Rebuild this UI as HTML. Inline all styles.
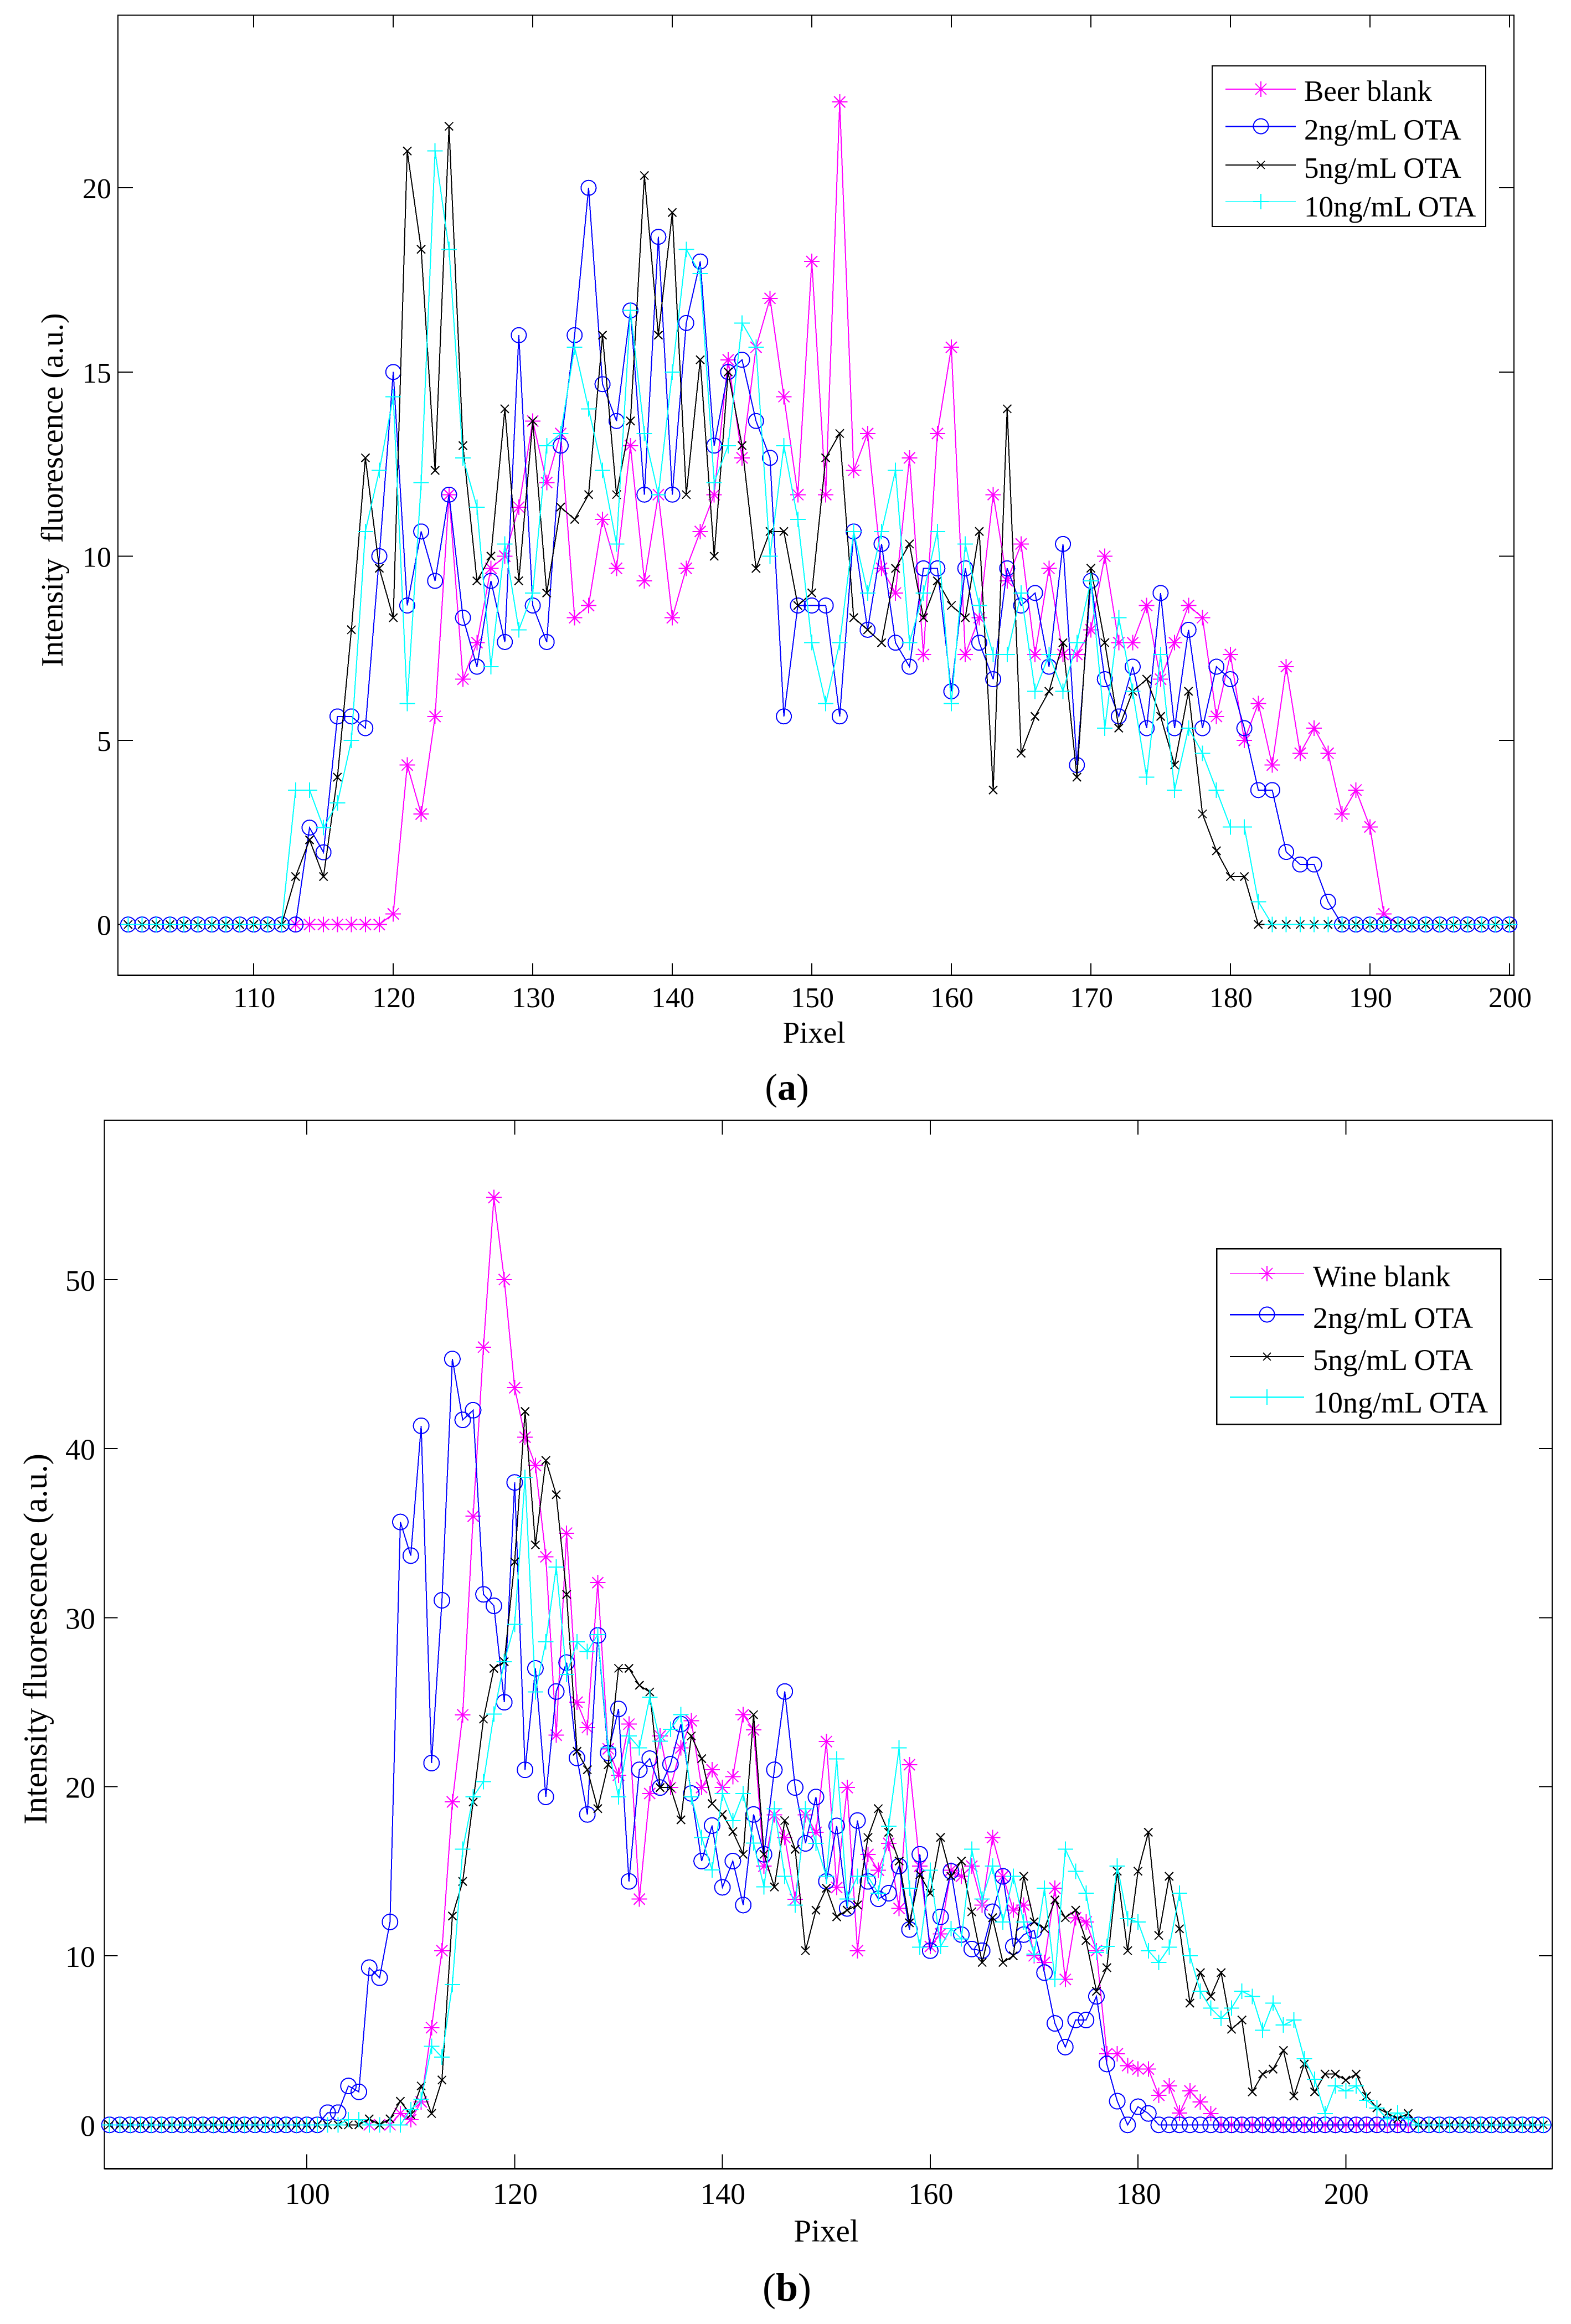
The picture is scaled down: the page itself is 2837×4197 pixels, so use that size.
<!DOCTYPE html>
<html lang="en">
<head>
<meta charset="utf-8">
<title>Intensity fluorescence charts</title>
<style>
html,body{margin:0;padding:0;background:#fff;}
svg{display:block;}
text{font-family:"Liberation Serif","Times New Roman",serif;fill:#000;}
</style>
</head>
<body>
<svg id="figure" xmlns="http://www.w3.org/2000/svg" width="2837" height="4197" viewBox="0 0 2837 4197">
<rect x="0" y="0" width="2837" height="4197" fill="#fff"/>
<g id="panel-a"></g>
<g id="panel-b"></g>

<text font-size="56" text-anchor="middle" xml:space="preserve" transform="translate(113,885) rotate(-90)">Intensity  fluorescence (a.u.)</text>
<text font-size="55" text-anchor="middle" x="1470" y="1883">Pixel</text>
<text font-size="68" text-anchor="middle" x="1421" y="1986">(<tspan font-weight="bold">a</tspan>)</text>

<text font-size="60" text-anchor="middle" transform="translate(84,2960) rotate(-90)">Intensity fluorescence (a.u.)</text>
<text font-size="57" text-anchor="middle" x="1492" y="4048">Pixel</text>
<text font-size="72" text-anchor="middle" x="1421" y="4155">(<tspan font-weight="bold">b</tspan>)</text>

<g id="legend-a" shape-rendering="crispEdges">
  <rect x="2189" y="119" width="494" height="290" fill="#fff" stroke="#000" stroke-width="2"/>
  <g>
    <line x1="2213" x2="2340" y1="161" y2="161" stroke="#f0f" stroke-width="2"/>
    <path d="M2263 161H2291M2277 147V175M2267 151L2287 171M2267 171L2287 151" stroke="#f0f" stroke-width="2" fill="none"/>
    <text font-size="53" x="2355" y="182">Beer blank</text>
  </g>
  <g>
    <line x1="2213" x2="2340" y1="228" y2="228" stroke="#00f" stroke-width="2.5"/>
    <circle cx="2277" cy="228" r="13.5" stroke="#00f" stroke-width="2" fill="none"/>
    <text font-size="53" x="2355" y="252">2ng/mL OTA</text>
  </g>
  <g>
    <line x1="2213" x2="2340" y1="298" y2="298" stroke="#000" stroke-width="2"/>
    <path d="M2270 291L2284 305M2270 305L2284 291" stroke="#000" stroke-width="2" fill="none"/>
    <text font-size="53" x="2355" y="321">5ng/mL OTA</text>
  </g>
  <g>
    <line x1="2213" x2="2340" y1="364" y2="364" stroke="#0ff" stroke-width="1.5"/>
    <path d="M2263 364H2291M2277 350V378" stroke="#0ff" stroke-width="2" fill="none"/>
    <text font-size="53" x="2355" y="391">10ng/mL OTA</text>
  </g>
</g>

<g id="legend-b" shape-rendering="crispEdges">
  <rect x="2197" y="2255" width="513" height="317" fill="#fff" stroke="#000" stroke-width="2.5"/>
  <g>
    <line x1="2221" x2="2355" y1="2300" y2="2300" stroke="#f0f" stroke-width="1.5"/>
    <path d="M2274 2300H2302M2288 2286V2314M2278 2290L2298 2310M2278 2310L2298 2290" stroke="#f0f" stroke-width="2" fill="none"/>
    <text font-size="54" x="2371" y="2323">Wine blank</text>
  </g>
  <g>
    <line x1="2221" x2="2355" y1="2374" y2="2374" stroke="#00f" stroke-width="2.5"/>
    <circle cx="2288" cy="2374" r="13.5" stroke="#00f" stroke-width="2" fill="none"/>
    <text font-size="54" x="2371" y="2398">2ng/mL OTA</text>
  </g>
  <g>
    <line x1="2221" x2="2355" y1="2450" y2="2450" stroke="#000" stroke-width="2"/>
    <path d="M2281 2443L2295 2457M2281 2457L2295 2443" stroke="#000" stroke-width="2" fill="none"/>
    <text font-size="54" x="2371" y="2474">5ng/mL OTA</text>
  </g>
  <g>
    <line x1="2221" x2="2355" y1="2523" y2="2523" stroke="#0ff" stroke-width="2.5"/>
    <path d="M2274 2523H2302M2288 2509V2537" stroke="#0ff" stroke-width="2" fill="none"/>
    <text font-size="54" x="2371" y="2551">10ng/mL OTA</text>
  </g>
</g>
</svg>

<script>
// ---- Panel (a) data: one value per pixel, first pixel is 101 ----
const panelAFirstPixel = 101;
const panelAXTicks = [110,120,130,140,150,160,170,180,190,200];
const panelAYTicks = [0,5,10,15,20];
const panelABeerBlank = [
null,null,null,null,null,null,null,null,null,null,
null,null,0,0,0,0,0,0,0,0.29,
4.33,3,5.65,11.67,6.66,7.65,9.67,10,11.33,13.67,
12,13.33,8.33,8.66,11,9.67,13,9.33,11.67,8.33,
9.67,10.67,11.67,15.33,12.67,15.67,17,14.33,11.67,18,
11.67,22.33,12.33,13.33,9.67,9,12.67,7.33,13.33,15.67,
7.33,8.33,11.67,9.33,10.33,7.33,9.67,7.33,7.33,8,
10,7.65,7.65,8.66,6.66,7.65,8.66,8.33,5.65,7.33,
5,6,4.33,7,4.65,5.33,4.65,3,3.65,2.65,
0.29,0,null,null,null,null,null,null,null,null];
const panelA2ng = [
0,0,0,0,0,0,0,0,0,0,
0,0,0,2.63,1.96,5.65,5.65,5.33,10,15,
8.66,10.67,9.33,11.67,8.33,7,9.33,7.67,16,8.66,
7.67,13,16,20,14.67,13.67,16.67,11.67,18.67,11.67,
16.33,18,13,15,15.33,13.67,12.67,5.65,8.66,8.66,
8.66,5.65,10.67,8,10.33,7.65,7,9.67,9.67,6.33,
9.67,7.65,6.66,9.67,8.66,9,7,10.33,4.33,9.33,
6.66,5.65,7,5.33,9,5.33,8,5.33,7,6.66,
5.33,3.65,3.65,1.97,1.63,1.63,0.62,0,0,0,
0,0,0,0,0,0,0,0,0,0];
const panelA5ng = [
0,0,0,0,0,0,0,0,0,0,
0,0,1.3,2.3,1.3,4,8,12.67,9.67,8.33,
21,18.33,12.33,21.67,13,9.33,10,14,9.33,13.67,
9,11.33,11,11.67,16,11.67,13.67,20.33,16,19.33,
11.67,15.33,10,15,13,9.67,10.67,10.67,8.66,9,
12.67,13.33,8.33,8,7.65,9.67,10.33,8.33,9.33,8.66,
8.33,10.67,3.65,14,4.65,5.65,6.33,7.65,4,9.67,
7.65,5.33,6.33,6.66,5.65,4.33,6.33,3,2,1.3,
1.3,0,0,0,0,0,0,0,0,0,
0,0,0,0,0,0,0,0,0,0];
const panelA10ng = [
0,0,0,0,0,0,0,0,0,0,
0,0,3.65,3.65,2.63,3.3,5,10.67,12.33,14.33,
6,12,21,18.33,12.67,11.33,7,10.33,8,9,
13,13.33,15.67,14,12.33,10.33,16.67,13.33,11.67,15,
18.33,17.67,12,13,16.33,15.67,10,13,11,7.65,
6,7.65,10.67,9,10.67,12.33,7.65,9,10.67,6,
10.33,8.66,7.33,7.33,9,6.33,7.33,6.33,7.65,9.33,
5.33,8.33,6.33,4,7.33,3.65,5.33,4.65,3.65,2.65,
2.65,0.62,0,0,0,0,0,0,0,0,
0,0,0,0,0,0,0,0,0,0];

// ---- Panel (b) data: one value per pixel, first pixel is 81 ----
const panelBFirstPixel = 81;
const panelBXTicks = [100,120,140,160,180,200];
const panelBYTicks = [0,10,20,30,40,50];
const panelBWineBlank = [
null,null,null,null,null,null,null,null,null,null,
null,null,null,null,null,null,null,null,null,null,
null,null,null,null,null,0,0,0,0.67,0.3,
1.36,5.75,10.3,19.1,24.25,36,46,54.85,50,43.6,
40.67,39,33.6,23.05,35,25,23.5,32.07,22.24,20.68,
23.7,13.35,19.6,23,19.95,22.3,23.9,19.95,21,19.95,
20.6,24.26,23.36,15.3,18.34,17,13.34,18.34,17.3,22.67,
14.04,19.95,10.3,16,15.06,16.65,12.8,21.3,15.3,10.55,
11.3,15.06,14.7,15.3,13,17,14.7,12.7,13,10,
9.6,14,8.6,12.25,12,10.3,4.2,4.2,3.5,3.3,
3.3,1.75,2.3,0.7,2,1.35,0.67,0,0,0,
0,0,0,0,0,0,0,0,0,0,
0,0,0,0,0,0,0,null,null,null,
null,null,null,null,null,null,null,null,null];
const panelB2ng = [
0,0,0,0,0,0,0,0,0,0,
0,0,0,0,0,0,0,0,0,0,
0,0.72,0.72,2.3,1.95,9.3,8.7,12,35.66,33.67,
41.35,21.4,31.03,45.3,41.7,42.27,31.38,30.7,25,38,
21,27,19.4,25.63,27.34,21.7,18.36,28.95,22,24.6,
14.4,21,21.66,19.95,21.33,23.7,19.6,15.6,17.7,14.05,
15.6,13,18.36,16,21,25.63,19.95,16.65,19.39,14.4,
17.68,12.8,18,14.4,13.37,13.7,15.3,11.55,16,10.3,
12.3,15,11.25,10.4,10.3,12.6,14.7,10.55,11.25,11.5,
9,6,4.6,6.2,6.2,7.6,3.6,1.4,0,1.07,
0.67,0,0,0,0,0,0,0,0,0,
0,0,0,0,0,0,0,0,0,0,
0,0,0,0,0,0,0,0,0,0,
0,0,0,0,0,0,0,0,0];
const panelB5ng = [
0,0,0,0,0,0,0,0,0,0,
0,0,0,0,0,0,0,0,0,0,
0,0,0,0,0,0.35,0,0.35,1.4,0.6,
2.3,0.67,2.65,12.35,14.4,19.1,24,27,27.4,33.3,
42.2,34.3,39.3,37.27,31.37,22.1,21,18.7,21.3,27,
27,26,25.6,19.95,19.95,18.04,23,21.66,19,18.36,
17.34,16,24.26,16,14.07,18,16.3,10.3,12.7,14,
12.3,12.7,13,17,18.7,17.3,15.6,11.95,14.8,13.7,
17,14.7,15.6,12.6,9.6,12.25,9.6,10,14.7,12,
11.6,13.3,12.25,12.7,10.9,7.9,9.3,15,10.3,15,
17.3,11.2,14.7,11.6,7.2,9,7.6,9,5.65,6.2,
1.95,3,3.3,4.4,1.7,3.6,1.95,3,3,2.65,
3,1.7,1,0.7,0.35,0.67,0,0,0,0,
0,0,0,0,0,0,0,0,0];
const panelB10ng = [
0,0,0,0,0,0,0,0,0,0,
0,0,0,0,0,0,0,0,0,0,
0,0,0,0.3,0.3,0,0,0,0,0.9,
1.5,4.65,4,8.3,16.3,19.4,20.3,24.3,27.4,29.6,
38.3,25.6,28.57,33,26.64,28.57,28,29,22.3,19.4,
23,22.3,25.3,22.7,23.4,24.26,19.4,17,15.07,19.6,
18,19.6,16.66,14.07,18.7,14.7,13,18.7,16.65,14.7,
21.64,13.36,14.7,14.7,13.7,17.67,22.3,14,10.5,15.06,
10.55,11.6,11,16.3,13.36,15.3,12,14.7,12,10.1,
14,8.6,16.3,15,13.7,10.2,10.55,15.3,12.2,12,
10.3,9.6,10.5,13.7,10,7.9,6.9,6.3,6.9,7.9,
7.6,5.6,7.2,5.9,6.2,3.9,2.7,0.67,2.3,2,
2.3,1.45,1,0.35,0.7,0.35,0,0,0,0,
0,0,0,0,0,0,0,0,0];

const SVGNS = 'http://www.w3.org/2000/svg';

function markerPath(kind, cx, cy, s) {
  if (kind === 'star') {
    const d = s * 0.72;
    return 'M' + (cx - s) + ' ' + cy + 'H' + (cx + s) + 'M' + cx + ' ' + (cy - s) + 'V' + (cy + s) +
      'M' + (cx - d) + ' ' + (cy - d) + 'L' + (cx + d) + ' ' + (cy + d) +
      'M' + (cx - d) + ' ' + (cy + d) + 'L' + (cx + d) + ' ' + (cy - d);
  }
  if (kind === 'circle') {
    return 'M' + (cx - s) + ' ' + cy + 'A' + s + ' ' + s + ' 0 1 0 ' + (cx + s) + ' ' + cy +
      'A' + s + ' ' + s + ' 0 1 0 ' + (cx - s) + ' ' + cy;
  }
  if (kind === 'cross') {
    return 'M' + (cx - s) + ' ' + (cy - s) + 'L' + (cx + s) + ' ' + (cy + s) +
      'M' + (cx - s) + ' ' + (cy + s) + 'L' + (cx + s) + ' ' + (cy - s);
  }
  return 'M' + (cx - s) + ' ' + cy + 'H' + (cx + s) + 'M' + cx + ' ' + (cy - s) + 'V' + (cy + s);
}

function drawPanel(cfg) {
  const root = document.getElementById(cfg.id);
  root.setAttribute('shape-rendering', 'crispEdges');
  const xScale = function (v) { return cfg.x0 + (v - cfg.xv0) * cfg.xUnit; };
  const yScale = function (v) { return cfg.y0 - v * cfg.yUnit; };

  const frame = document.createElementNS(SVGNS, 'rect');
  
  
  frame.setAttribute('x', cfg.left);
  frame.setAttribute('y', cfg.top);
  frame.setAttribute('width', cfg.right - cfg.left);
  frame.setAttribute('height', cfg.bottom - cfg.top);
  frame.setAttribute('fill', 'none');
  frame.setAttribute('stroke', '#000');
  frame.setAttribute('stroke-width', '2');
  root.appendChild(frame);

  const base = document.createElementNS(SVGNS, 'line');
  
  
  base.setAttribute('x1', cfg.left);
  base.setAttribute('x2', cfg.right);
  base.setAttribute('y1', cfg.bottom);
  base.setAttribute('y2', cfg.bottom);
  base.setAttribute('stroke', '#000');
  base.setAttribute('stroke-width', '3');
  root.appendChild(base);

  cfg.xTicks.forEach(function (t) {
    const px = xScale(t);
    const tick = document.createElementNS(SVGNS, 'path');
    
    
    tick.setAttribute('d', 'M' + px + ' ' + cfg.bottom + 'V' + (cfg.bottom - cfg.xTickLen) +
      'M' + px + ' ' + cfg.top + 'V' + (cfg.top + cfg.xTickLen));
    tick.setAttribute('stroke', '#000');
    tick.setAttribute('stroke-width', '2');
    tick.setAttribute('fill', 'none');
    root.appendChild(tick);
    const label = document.createElementNS(SVGNS, 'text');
    
    
    label.setAttribute('x', px + 1);
    label.setAttribute('y', cfg.xLabelY);
    label.setAttribute('font-size', cfg.tickFont);
    label.setAttribute('text-anchor', 'middle');
    label.textContent = String(t);
    root.appendChild(label);
  });

  cfg.yTicks.forEach(function (t) {
    const py = yScale(t);
    const tick = document.createElementNS(SVGNS, 'path');
    
    
    tick.setAttribute('d', 'M' + cfg.left + ' ' + py + 'H' + (cfg.left + cfg.yTickLen) +
      'M' + cfg.right + ' ' + py + 'H' + (cfg.right - cfg.yTickLen));
    tick.setAttribute('stroke', '#000');
    tick.setAttribute('stroke-width', '2');
    tick.setAttribute('fill', 'none');
    root.appendChild(tick);
    const label = document.createElementNS(SVGNS, 'text');
    
    
    label.setAttribute('x', cfg.yLabelX);
    label.setAttribute('y', py + cfg.yLabelDy);
    label.setAttribute('font-size', cfg.tickFont);
    label.setAttribute('text-anchor', 'end');
    label.textContent = String(t);
    root.appendChild(label);
  });

  cfg.series.forEach(function (s) {
    const g = document.createElementNS(SVGNS, 'g');
    
    
    root.appendChild(g);
    let d = '';
    s.values.forEach(function (v, i) {
      if (v === null) return;
      const px = xScale(cfg.first + i);
      const py = yScale(v);
      d += (d === '' ? 'M' : 'L') + px.toFixed(1) + ' ' + py.toFixed(1);
    });
    const line = document.createElementNS(SVGNS, 'path');
    
    
    line.setAttribute('d', d);
    line.setAttribute('fill', 'none');
    line.setAttribute('stroke', s.color);
    line.setAttribute('stroke-width', '2');
    line.setAttribute('stroke-linejoin', 'miter');
    g.appendChild(line);
    s.values.forEach(function (v, i) {
      if (v === null) return;
      const px = xScale(cfg.first + i);
      const py = yScale(v);
      const mark = document.createElementNS(SVGNS, 'path');
      
      
      mark.setAttribute('d', markerPath(s.kind, +px.toFixed(1), +py.toFixed(1), s.size));
      mark.setAttribute('fill', 'none');
      mark.setAttribute('stroke', s.color);
      mark.setAttribute('stroke-width', '2');
      g.appendChild(mark);
    });
  });
}

drawPanel({
  id: 'panel-a', first: panelAFirstPixel,
  left: 213, right: 2734, top: 27.5, bottom: 1761.5,
  x0: 458.2, xv0: 110, xUnit: 25.196, y0: 1669.6, yUnit: 66.52,
  xTicks: panelAXTicks, yTicks: panelAYTicks,
  xTickLen: 22, yTickLen: 27, tickFont: 52, xLabelY: 1819, yLabelX: 201, yLabelDy: 19,
  series: [
    { name: 'series-beer-blank', values: panelABeerBlank, color: '#ff00ff', kind: 'star', size: 14 },
    { name: 'series-2ng-ota', values: panelA2ng, color: '#0000ff', kind: 'circle', size: 13.5 },
    { name: 'series-5ng-ota', values: panelA5ng, color: '#000000', kind: 'cross', size: 7.5 },
    { name: 'series-10ng-ota', values: panelA10ng, color: '#00ffff', kind: 'plus', size: 14 }
  ]
});

drawPanel({
  id: 'panel-b', first: panelBFirstPixel,
  left: 188.5, right: 2803, top: 2023, bottom: 3916.5,
  x0: 554.2, xv0: 100, xUnit: 18.761, y0: 3837.3, yUnit: 30.53,
  xTicks: panelBXTicks, yTicks: panelBYTicks,
  xTickLen: 26, yTickLen: 24, tickFont: 54, xLabelY: 3980, yLabelX: 172, yLabelDy: 20,
  series: [
    { name: 'series-wine-blank', values: panelBWineBlank, color: '#ff00ff', kind: 'star', size: 14 },
    { name: 'series-2ng-ota', values: panelB2ng, color: '#0000ff', kind: 'circle', size: 14 },
    { name: 'series-5ng-ota', values: panelB5ng, color: '#000000', kind: 'cross', size: 7.5 },
    { name: 'series-10ng-ota', values: panelB10ng, color: '#00ffff', kind: 'plus', size: 14 }
  ]
});

// Legends sit above the plotted marks
const figureRoot = document.getElementById('figure');
figureRoot.appendChild(document.getElementById('legend-a'));
figureRoot.appendChild(document.getElementById('legend-b'));
</script>
</body>
</html>
